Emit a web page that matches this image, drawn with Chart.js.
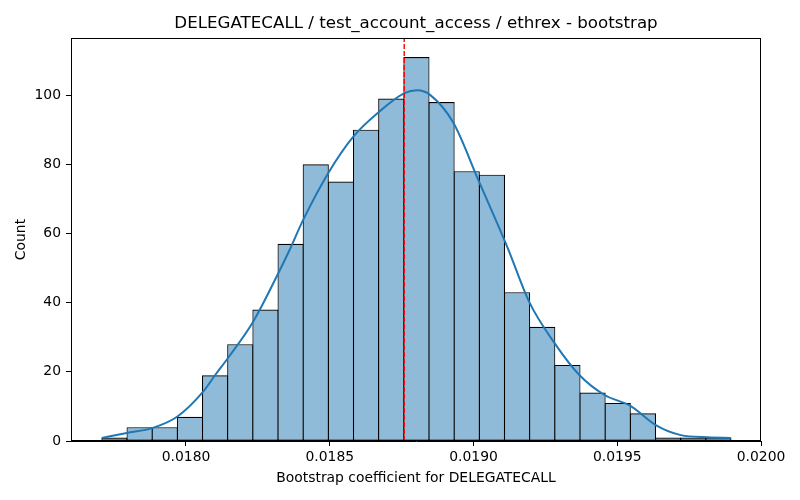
<!DOCTYPE html>
<html>
<head>
<meta charset="utf-8">
<script src="https://cdn.jsdelivr.net/npm/chart.js@4.4.1/dist/chart.umd.min.js"></script>
<style>
  html, body { margin: 0; padding: 0; background: #fff; }
</style>
</head>
<body>
<canvas id="myChart" width="800" height="500"></canvas>
<script>
// bin centres of the bootstrap histogram (25 bins)
const binCenters = [
  0.0177511, 0.0178386, 0.0179261, 0.0180137, 0.0181012,
  0.0181887, 0.0182763, 0.0183638, 0.0184513, 0.0185389,
  0.0186264, 0.0187139, 0.0188015, 0.0188890, 0.0189765,
  0.0190641, 0.0191516, 0.0192391, 0.0193267, 0.0194142,
  0.0195017, 0.0195893, 0.0196768, 0.0197643, 0.0198519,
];
const counts = [
  1, 4, 4, 7, 19, 28, 38, 57, 80, 75, 90, 99, 111,
  98, 78, 77, 43, 33, 22, 14, 11, 8, 1, 1, 1,
];

// kde curve
const kdeX = [
  0.017707, 0.017794, 0.017885, 0.017969, 0.018059, 0.018101, 0.018146,
  0.018233, 0.018321, 0.018359, 0.018408, 0.018495, 0.018582, 0.018669,
  0.018760, 0.018805, 0.018850, 0.018930, 0.019017, 0.019118, 0.019195,
  0.019282, 0.019369, 0.019456, 0.019547, 0.019634, 0.019721, 0.019815,
  0.019895,
];
const kdeY = [
  0.9, 2.3, 3.8, 7, 14.2, 19, 24,
  34.4, 48.5, 55, 64, 77.5, 88, 95,
  100.6, 101.4, 100, 92, 75.4, 56, 40,
  28.3, 19, 13.3, 10.1, 4.6, 1.7, 1.1,
  0.9,
];

const meanValue = 0.018759;
const xTicks = [0.0180, 0.0185, 0.0190, 0.0195, 0.0200];
const yTicks = [0, 20, 40, 60, 80, 100];
const xMin = 0.0176, xMax = 0.0200;
const yMax = 116.5;

const FONT = "'DejaVu Sans', sans-serif";

// matplotlib style full frame round the plot
const boxPlugin = {
  id: "box",
  afterDatasetsDraw(chart) {
    const a = chart.chartArea;
    const ctx = chart.ctx;
    ctx.save();
    ctx.strokeStyle = "#000";
    ctx.lineWidth = 1;
    ctx.strokeRect(Math.round(a.left) + 0.5, Math.round(a.top) + 0.5,
      Math.round(a.right - a.left) - 1, Math.round(a.bottom - a.top) - 1);
    ctx.restore();
  },
};

const config = {
  type: "bar",
  data: {
    datasets: [
      {
        type: "line",
        data: [{ x: meanValue, y: 0 }, { x: meanValue, y: yMax }],
        borderColor: "#ff0000",
        borderWidth: 1.4,
        borderDash: [5, 2],
        pointRadius: 0,
        order: 1,
      },
      {
        type: "line",
        data: kdeX.map((x, i) => ({ x: x, y: kdeY[i] })),
        borderColor: "#1f77b4",
        borderWidth: 2,
        pointRadius: 0,
        cubicInterpolationMode: "monotone",
        order: 2,
      },
      {
        type: "bar",
        data: binCenters.map((x, i) => ({ x: x, y: counts[i] })),
        backgroundColor: "rgba(31, 119, 180, 0.5)",
        borderColor: "#000",
        borderWidth: 1.1,
        borderSkipped: false,
        barPercentage: 1.04,
        categoryPercentage: 1,
        order: 3,
      },
    ],
  },
  options: {
    responsive: false,
    animation: false,
    layout: { padding: { left: 0, right: 39, top: 0, bottom: 0 } },
    plugins: {
      legend: { display: false },
      tooltip: { enabled: false },
      title: {
        display: true,
        fullSize: false,
        text: "DELEGATECALL / test_account_access / ethrex - bootstrap",
        color: "#000",
        font: { family: FONT, size: 16.7, weight: "normal" },
        padding: { top: 14, bottom: 4 },
      },
    },
    scales: {
      x: {
        type: "linear",
        offset: false,
        min: xMin,
        max: xMax,
        afterBuildTicks: (s) => { s.ticks = xTicks.map((v) => ({ value: v })); },
        afterFit: (s) => { s.height = 59; },
        grid: { offset: false, drawOnChartArea: false, drawTicks: true, tickLength: 5, color: "#000" },
        border: { display: true, color: "#000" },
        ticks: {
          color: "#000",
          padding: 3,
          maxRotation: 0,
          font: { family: FONT, size: 13.9 },
          callback: (v) => Number(v).toFixed(4),
        },
        title: {
          display: true,
          text: "Bootstrap coefficient for DELEGATECALL",
          color: "#000",
          font: { family: FONT, size: 13.9 },
          padding: { top: 0, bottom: 13 },
        },
      },
      y: {
        min: 0,
        max: yMax,
        afterBuildTicks: (s) => { s.ticks = yTicks.map((v) => ({ value: v })); },
        afterFit: (s) => { s.width = 71; },
        grid: { drawOnChartArea: false, drawTicks: true, tickLength: 5, color: "#000" },
        border: { display: true, color: "#000" },
        ticks: {
          color: "#000",
          padding: 5,
          font: { family: FONT, size: 13.9 },
        },
        title: {
          display: true,
          text: "Count",
          color: "#000",
          font: { family: FONT, size: 13.9 },
          padding: { top: 13, bottom: 0 },
        },
      },
    },
  },
  plugins: [boxPlugin],
};

const myChart = new Chart(document.getElementById("myChart"), config);
</script>
</body>
</html>
